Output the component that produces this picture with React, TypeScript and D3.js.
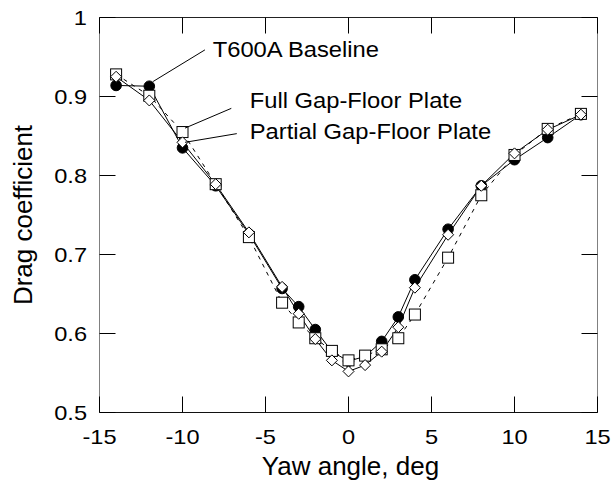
import React from "react";
import * as d3 from "d3";

const yawAngles = [-14, -12, -10, -8, -6, -4, -3, -2, -1, 0, 1, 2, 3, 4, 6, 8, 10, 12, 14];
const baselineCd = [0.914, 0.913, 0.835, 0.787, 0.726, 0.657, 0.634, 0.605, 0.577, 0.565, 0.571, 0.590, 0.621, 0.668, 0.732, 0.787, 0.820, 0.848, 0.877];
const fullPlateCd = [0.928, 0.901, 0.855, 0.789, 0.722, 0.639, 0.614, 0.594, 0.578, 0.566, 0.572, 0.580, 0.594, 0.624, 0.696, 0.775, 0.826, 0.859, 0.878];
const partialPlateCd = [0.925, 0.895, 0.842, 0.789, 0.728, 0.659, 0.625, 0.593, 0.566, 0.552, 0.560, 0.577, 0.608, 0.658, 0.725, 0.787, 0.828, 0.858, 0.877];

const xTicks = [-15, -10, -5, 0, 5, 10, 15];
const yTicks = [0.5, 0.6, 0.7, 0.8, 0.9, 1];
const yTickLabels = ["0.5", "0.6", "0.7", "0.8", "0.9", "1"];

const annotationLabels = ["T600A Baseline", "Full Gap-Floor Plate", "Partial Gap-Floor Plate"];
// [textX, textY, lineFromX, lineFromY, lineToX, lineToY] in data units
const annotationAnchors = [
  [-8.18, 0.9505, -8.65, 0.959, -11.77, 0.919],
  [-5.95, 0.886, -7.06, 0.885, -9.85, 0.86],
  [-5.95, 0.8465, -6.73, 0.853, -9.85, 0.842],
];

const W = 613;
const H = 488;
const left = 99.5;
const right = 597.5;
const top = 17.5;
const bottom = 412.5;
const FONT = "'Liberation Sans', Arial, Helvetica, sans-serif";

export default function App() {
  const x = d3.scaleLinear().domain([-15, 15]).range([left, right]);
  const y = d3.scaleLinear().domain([0.5, 1]).range([bottom, top]);
  const line = d3
    .line<[number, number]>()
    .x((d) => x(d[0]))
    .y((d) => y(d[1]));

  const pts = (vals: number[]) => yawAngles.map((a, i) => [a, vals[i]] as [number, number]);
  const base = pts(baselineCd);
  const full = pts(fullPlateCd);
  const part = pts(partialPlateCd);
  const tickLen = 16;

  return (
    <div style={{ position: "absolute", left: 0, top: 0 }}>
      <svg width={W} height={H} style={{ display: "block", background: "#fff" }}>
        {/* frame */}
        <line x1={left} y1={top} x2={left} y2={bottom} stroke="#808080" strokeWidth={1} />
        <line x1={right} y1={top} x2={right} y2={bottom} stroke="#808080" strokeWidth={1} />
        <line x1={left} y1={top} x2={right} y2={top} stroke="#222" strokeWidth={1} />
        <line x1={left} y1={bottom} x2={right} y2={bottom} stroke="#111" strokeWidth={1} />

        {/* x ticks */}
        {xTicks.map((t) => (
          <g key={"xt" + t}>
            <line x1={x(t)} x2={x(t)} y1={bottom} y2={bottom - tickLen} stroke="#000" />
            <line x1={x(t)} x2={x(t)} y1={top} y2={top + tickLen} stroke="#000" />
            <text
              transform={`translate(${x(t)},443.5) scale(1.18,1)`}
              textAnchor="middle"
              fontFamily={FONT}
              fontSize={20}
              fill="#000"
            >
              {t}
            </text>
          </g>
        ))}
        {/* y ticks */}
        {yTicks.map((t, i) => (
          <g key={"yt" + t}>
            <line x1={left} x2={left + tickLen} y1={y(t)} y2={y(t)} stroke="#000" />
            <line x1={right} x2={right - tickLen} y1={y(t)} y2={y(t)} stroke="#000" />
            <text
              transform={`translate(87,${y(t) + 7}) scale(1.18,1)`}
              textAnchor="end"
              fontFamily={FONT}
              fontSize={20}
              fill="#000"
            >
              {yTickLabels[i]}
            </text>
          </g>
        ))}

        {/* axis titles */}
        <text x={(left + right) / 2 + 2} y={475} textAnchor="middle" fontFamily={FONT} fontSize={26} fill="#000">
          Yaw angle, deg
        </text>
        <text
          transform={`translate(31.5,${(top + bottom) / 2}) rotate(-90)`}
          textAnchor="middle"
          fontFamily={FONT}
          fontSize={26}
          fill="#000"
        >
          Drag coefficient
        </text>

        {/* series lines */}
        <path d={line(base) || ""} fill="none" stroke="#000" strokeWidth={1} />
        <path d={line(full) || ""} fill="none" stroke="#000" strokeWidth={1} strokeDasharray="4,5" />
        <path d={line(part) || ""} fill="none" stroke="#000" strokeWidth={1} />

        {/* markers */}
        {base.map((d, i) => (
          <circle key={"c" + i} cx={x(d[0])} cy={y(d[1])} r={5.3} fill="#000" stroke="#000" />
        ))}
        {full.map((d, i) => (
          <rect
            key={"s" + i}
            x={x(d[0]) - 5.5}
            y={y(d[1]) - 5.5}
            width={11}
            height={11}
            fill="#fff"
            stroke="#000"
            strokeWidth={1}
          />
        ))}
        {part.map((d, i) => {
          const cx = x(d[0]);
          const cy = y(d[1]);
          const r = 5.5;
          return (
            <path
              key={"d" + i}
              d={`M${cx},${cy - r}L${cx + r},${cy}L${cx},${cy + r}L${cx - r},${cy}Z`}
              fill="#fff"
              stroke="#000"
              strokeWidth={1}
            />
          );
        })}

        {/* annotations */}
        {annotationLabels.map((lab, i) => {
          const a = annotationAnchors[i];
          return (
            <g key={"a" + i}>
              <line x1={x(a[2])} y1={y(a[3])} x2={x(a[4])} y2={y(a[5])} stroke="#000" strokeWidth={1} />
              <text
                transform={`translate(${x(a[0])},${y(a[1])}) scale(1.08,1)`}
                fontFamily={FONT}
                fontSize={22}
                fill="#000"
              >
                {lab}
              </text>
            </g>
          );
        })}
      </svg>
    </div>
  );
}
